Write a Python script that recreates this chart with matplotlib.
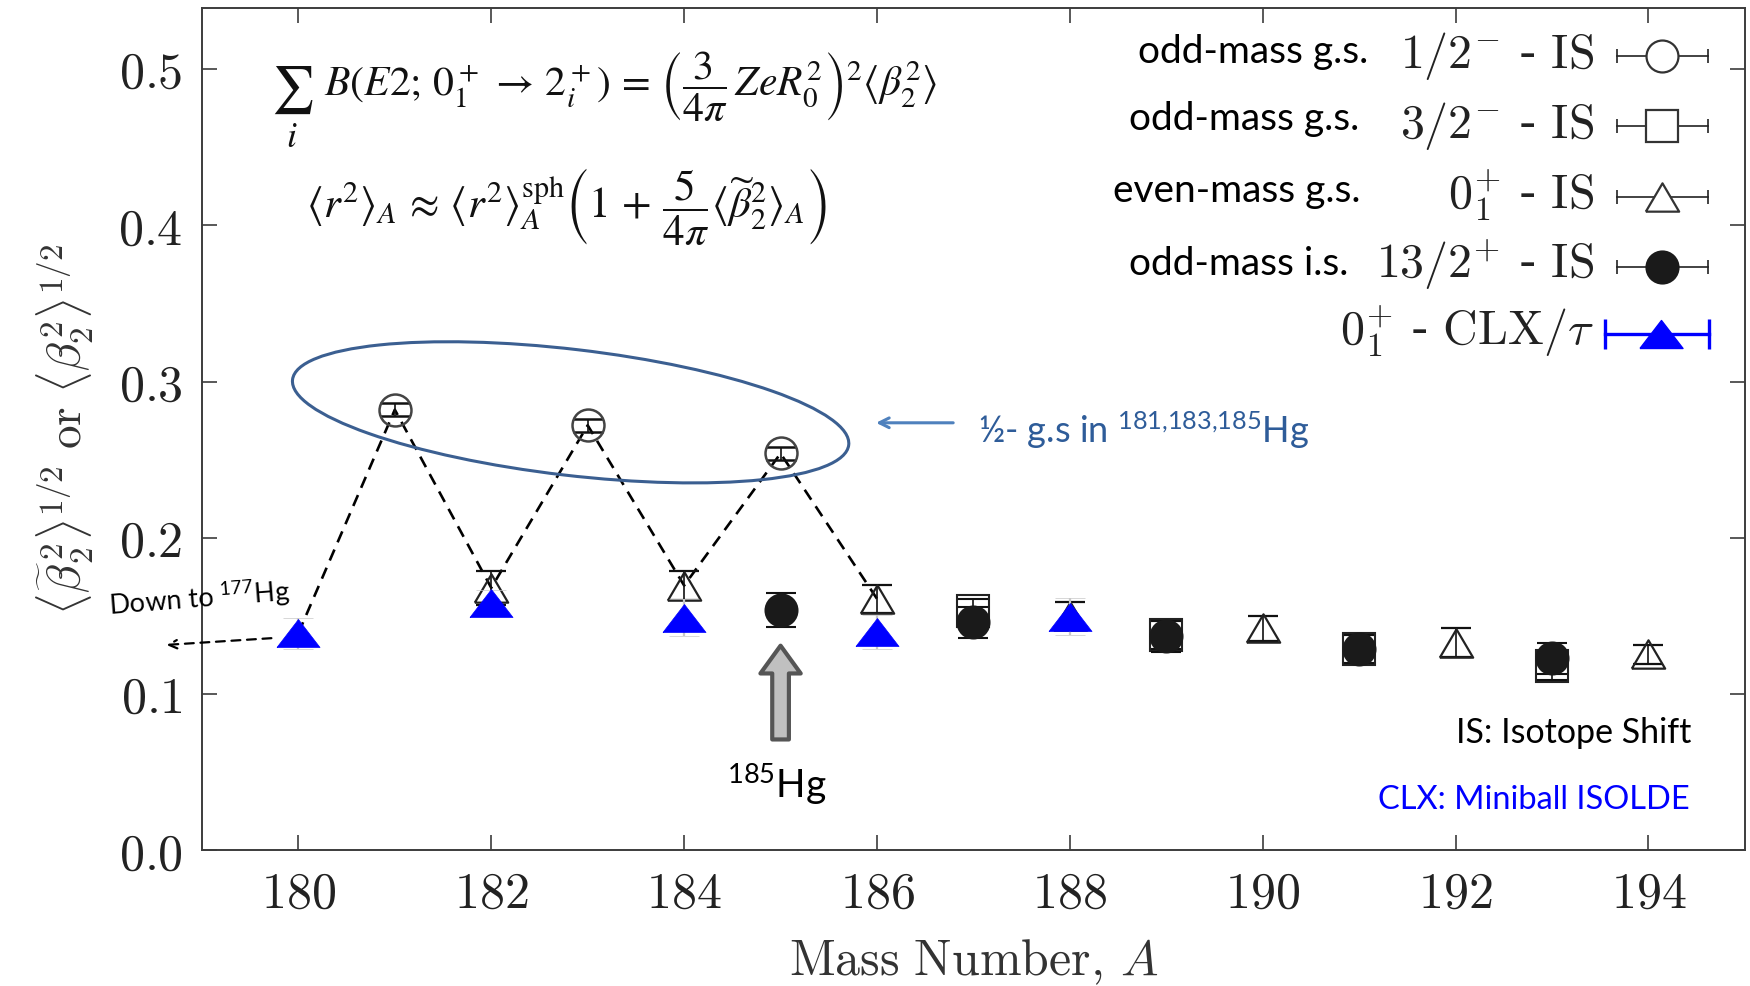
import numpy as np
import matplotlib
matplotlib.use('Agg')
import matplotlib.pyplot as plt
from matplotlib.patches import Ellipse
from matplotlib.transforms import IdentityTransform
from matplotlib.ticker import FuncFormatter, FixedLocator

# ---------------- data ----------------
A_half = [181, 183, 185]                      # 1/2- g.s. (IS)
b_half = [0.282, 0.272, 0.254]
e_half = [0.004, 0.004, 0.004]

A_three = [187, 189, 191, 193]                # 3/2- g.s. (IS)
b_three = [0.153, 0.138, 0.129, 0.118]
e_three = [0.008, 0.009, 0.009, 0.009]

A_even = [182, 184, 186, 188, 190, 192, 194]  # 0+ even-mass g.s. (IS)
b_even = [0.168, 0.1695, 0.161, 0.150, 0.142, 0.133, 0.1255]
e_even = [0.011, 0.0095, 0.009, 0.009, 0.008, 0.009, 0.006]

A_iso = [185, 187, 189, 191, 193]             # 13/2+ isomers (IS)
b_iso = [0.154, 0.146, 0.137, 0.129, 0.123]
e_iso = [0.011, 0.010, 0.010, 0.009, 0.010]

A_clx = [180, 182, 184, 186, 188]             # 0+ CLX / tau
b_clx = [0.139, 0.1586, 0.149, 0.1396, 0.1496]
e_clx = [0.010, 0.008, 0.012, 0.011, 0.012]

x_ticks = [180, 182, 184, 186, 188, 190, 192, 194]
y_ticks = [0.0, 0.1, 0.2, 0.3, 0.4, 0.5]

zig_A = [180, 181, 182, 183, 184, 185, 186]

# ---------------- style ----------------
plt.rcParams['mathtext.fontset'] = 'cm'
plt.rcParams['mathtext.rm'] = 'Lato'
plt.rcParams['mathtext.it'] = 'Lato:italic'
plt.rcParams['mathtext.bf'] = 'Lato:bold'
SANS = 'Lato'

fig = plt.figure(figsize=(17.5, 9.86), dpi=100)
ax = fig.add_axes([0.1154, 0.1375, 0.8817, 0.8544])
ax.set_xlim(179.0, 195.0)
ax.set_ylim(0.0, 0.539)

for s in ax.spines.values():
    s.set_color('#3c3c3c')
    s.set_linewidth(1.4)

ax.xaxis.set_major_locator(FixedLocator(x_ticks))
ax.yaxis.set_major_locator(FixedLocator(y_ticks))
ax.xaxis.set_major_formatter(FuncFormatter(lambda v, p: r'$%d$' % round(v)))
ax.yaxis.set_major_formatter(FuncFormatter(lambda v, p: r'$%.1f$' % v))
ax.tick_params(direction='in', length=11, width=1.2, top=True, right=True,
               labelsize=36, pad=14, colors='#3c3c3c', labelcolor='#222222')

ax.set_xlabel(r'$\mathrm{Mass\ Number,}\,A$', fontsize=36, color='#333333', labelpad=14)
ax.set_ylabel(r'$\langle\widetilde{\beta}_2^{\,2}\rangle^{1/2}\ \mathrm{or}\ \langle\beta_2^2\rangle^{1/2}$',
              fontsize=34, color='#333333', labelpad=16)

# marker shapes
tri_open = [(-1, -0.85), (1, -0.85), (0, 0.85), (-1, -0.85)]
tri_blue = [(-1, -0.65), (1, -0.65), (0, 0.65), (-1, -0.65)]

# ---------------- zigzag dashed guide ----------------
lookup = {}
for a, b in zip(A_clx, b_clx):
    lookup.setdefault(a, b)
for a, b in zip(A_half, b_half):
    lookup[a] = b
for a, b in zip(A_even, b_even):
    if a in (182, 184, 186):
        lookup[a] = b
zig_b = [lookup[a] for a in zig_A]
ax.plot(zig_A, zig_b, color='black', lw=1.9, ls=(0, (4.5, 3)), zorder=2)

ebkw = dict(ls='none', ecolor='#111111', elinewidth=1.2, capsize=11, capthick=1.2)

# open squares (3/2-)
ax.errorbar(A_three, b_three, yerr=e_three, marker='s', ms=23, mfc='none',
            mec='#222222', mew=1.5, zorder=3, **ebkw)
# filled circles (13/2+)
ax.errorbar(A_iso, b_iso, yerr=e_iso, marker='o', ms=23, mfc='#1a1a1a',
            mec='#1a1a1a', mew=1.5, zorder=4, **ebkw)
# open circles (1/2-)
ax.errorbar(A_half, b_half, yerr=e_half, marker='o', ms=23, mfc='none',
            mec='#444444', mew=1.8, zorder=4, **ebkw)
# open triangles (0+ IS)
ax.errorbar(A_even, b_even, yerr=e_even, marker=tri_open, ms=24, mfc='none',
            mec='#222222', mew=1.6, zorder=5, **ebkw)
# blue triangles (CLX)
ax.errorbar(A_clx, b_clx, yerr=e_clx, marker=tri_blue, ms=31, mfc='#0000ff',
            mec='#0000ff', mew=0.5, ls='none', ecolor='#c8c8c8', elinewidth=1.6,
            capsize=11, capthick=1.6, zorder=6)

# ---------------- formulas ----------------
FK = dict(transform=ax.transAxes, math_fontfamily='stix', color='#111111')
ax.text(0.0583, 0.9331, r'$\sum$', ha='center', va='top', fontsize=34, **FK)
ax.text(0.0583, 0.8669, r'$i$', ha='center', va='top', fontsize=26, **FK)
ax.text(0.0791, 0.8943,
        r'$B(E2;\,0_1^+ \,\rightarrow\, 2_i^+) \,=\, \left(\dfrac{3}{4\pi}\,ZeR_0^2\right)^2\langle\beta_2^2\rangle$',
        ha='left', va='baseline', fontsize=30, **FK)
ax.text(0.2362, 0.7506,
        r'$\langle r^2\rangle_A \,\approx\, \langle r^2\rangle_A^{\mathrm{sph}}\left(1\,+\,\dfrac{5}{4\pi}\langle\widetilde{\beta}_2^2\rangle_A\right)$',
        ha='center', va='baseline', fontsize=31, **FK)

# ---------------- legend (manual) ----------------
leg_sans = ['odd-mass g.s.', 'odd-mass g.s.', 'even-mass g.s.', 'odd-mass i.s.']
leg_sans_x = [0.756, 0.750, 0.751, 0.743]
leg_sans_y = [0.9343, 0.8551, 0.770, 0.683]
leg_math = [r'$1/2^{-}$ - $\mathrm{IS}$', r'$3/2^{-}$ - $\mathrm{IS}$',
            r'$0_1^{+}$ - $\mathrm{IS}$', r'$13/2^{+}$ - $\mathrm{IS}$',
            r'$0_1^{+}$ - $\mathrm{CLX}/\tau$']
leg_math_y = [0.9284, 0.8452, 0.762, 0.679, 0.5998]
leg_mark_y = [0.9425, 0.8599, 0.7759, 0.6928, 0.6136]

for t, x, y in zip(leg_sans, leg_sans_x, leg_sans_y):
    ax.text(x, y, t, transform=ax.transAxes, ha='right', va='baseline',
            fontsize=28, family=SANS, color='black')
for t, y in zip(leg_math, leg_math_y):
    ax.text(0.902, y, t, transform=ax.transAxes, ha='right', va='baseline',
            fontsize=34.5, color='#222222')

styles = [dict(marker='o', ms=23, mfc='white', mec='#333333', mew=1.6),
          dict(marker='s', ms=23, mfc='white', mec='#333333', mew=1.6),
          dict(marker=tri_open, ms=24, mfc='white', mec='#333333', mew=1.6),
          dict(marker='o', ms=23, mfc='#1a1a1a', mec='#1a1a1a', mew=1.6)]
for st, y in zip(styles, leg_mark_y[:4]):
    ax.plot([0.917, 0.976], [y, y], color='#222222', lw=1.2, transform=ax.transAxes)
    ax.plot([0.917, 0.976], [y, y], ls='none', marker='|', ms=9.5, mew=1.2,
            color='#222222', transform=ax.transAxes)
    ax.plot([0.9465], [y], ls='none', transform=ax.transAxes, **st)
yb = leg_mark_y[4]
ax.plot([0.909, 0.977], [yb, yb], color='#0000ff', lw=2.4, transform=ax.transAxes)
ax.plot([0.909, 0.977], [yb, yb], ls='none', marker='|', ms=21, mew=2.4,
        color='#0000ff', transform=ax.transAxes)
ax.plot([0.9455], [yb], ls='none', marker=tri_blue, ms=31, mfc='#0000ff',
        mec='#0000ff', transform=ax.transAxes)

# ---------------- annotations ----------------
ax.text(0.9656, 0.127, 'IS: Isotope Shift', transform=ax.transAxes, ha='right',
        va='baseline', fontsize=24.5, family=SANS, color='black')
ax.text(0.9644, 0.0487, 'CLX: Miniball ISOLDE', transform=ax.transAxes, ha='right',
        va='baseline', fontsize=23.5, family=SANS, color='#0000ff')

# 185Hg block arrow and label
ax.annotate('', xy=(185.0, 0.131), xytext=(185.0, 0.071),
            arrowprops=dict(arrowstyle='simple,head_width=2.9,head_length=2.0,tail_width=1.2',
                            fc='#c0c0c0', ec='#555555', lw=3, mutation_scale=10,
                            shrinkA=0, shrinkB=0))
ax.text(184.96, 0.034, r'$^{185}$Hg', ha='center', va='baseline', fontsize=28,
        family=SANS, math_fontfamily='custom', color='black')

# Down to 177Hg
ax.text(178.985, 0.1549, r'Down to $^{177}$Hg', ha='center', va='baseline',
        rotation=4.5, rotation_mode='anchor', fontsize=19.5, family=SANS,
        math_fontfamily='custom', color='black', clip_on=False)
ax.annotate('', xy=(178.63, 0.1315), xytext=(179.72, 0.1358),
            arrowprops=dict(arrowstyle='->,head_length=0.6,head_width=0.3',
                            color='black', lw=1.6, ls=(0, (4, 3)),
                            shrinkA=0, shrinkB=0),
            annotation_clip=False)

# blue arrow + text
ax.annotate('', xy=(185.99, 0.2736), xytext=(186.79, 0.2736),
            arrowprops=dict(arrowstyle='->,head_length=0.7,head_width=0.35',
                            color='#4f81bd', lw=2.2, shrinkA=0, shrinkB=0))
ax.text(187.05, 0.2609, r'½- g.s in $^{181{,}183{,}185}$Hg', ha='left', va='baseline',
        fontsize=26, family=SANS, math_fontfamily='custom', color='#2e5c99')

# ellipse around 1/2- states (drawn in pixel space so its shape is fixed)
fig.canvas.draw()
cx, cy = ax.transData.transform((182.823, 0.2803))
ell = Ellipse((cx, cy), width=560, height=126, angle=-6.7, fill=False,
              ec='#3b5f91', lw=2.2, transform=IdentityTransform(), zorder=7)
fig.add_artist(ell)

fig.savefig('out.png', dpi=100)
